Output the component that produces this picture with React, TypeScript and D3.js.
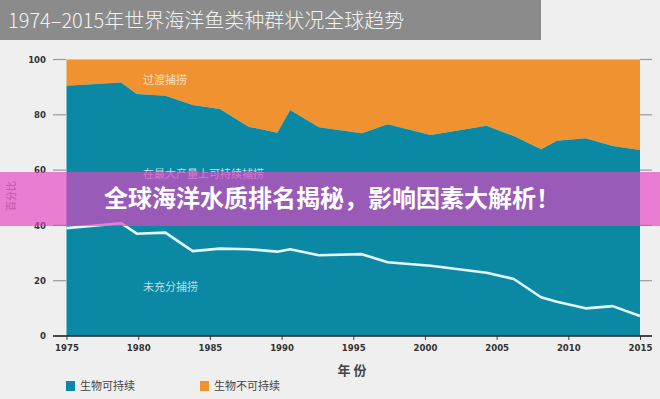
import React, { useEffect, useRef } from "react";
import * as d3 from "d3";

// years (points sit a little between whole years)
const years = [1975, 1978.8, 1979.9, 1981.9, 1983.8, 1985.7, 1987.7, 1989.7, 1990.6, 1992.6, 1995.6, 1997.4, 2000.4, 2004.3, 2006.2, 2008.1, 2009.2, 2011.2, 2013.1, 2015];
// share of stocks fished within sustainable levels (%)
const sustainable = [90.5, 91.7, 87.5, 86.9, 83.5, 82.1, 75.7, 73.5, 81.7, 75.5, 73.3, 76.6, 72.7, 76.0, 72.3, 67.5, 70.6, 71.5, 68.7, 67.3];
// share of underfished stocks (%)
const underfished = [39.0, 40.8, 37.0, 37.4, 30.7, 31.6, 31.4, 30.5, 31.4, 29.2, 29.6, 26.7, 25.4, 22.9, 20.6, 14.0, 12.4, 10.0, 10.8, 7.2];

const xTicks = [1975, 1980, 1985, 1990, 1995, 2000, 2005, 2010, 2015];
const yTicks = [0, 20, 40, 60, 80, 100];
const legendLabels = ["生物可持续", "生物不可持续"];

const TEAL = "#0b89a4";
const ORANGE = "#f0922f";
const W = 660;
const H = 399;
const numFont = "'Liberation Sans Narrow', 'DejaVu Sans Condensed', sans-serif";
const cjkFont = "'Noto Sans CJK SC', 'Noto Sans', sans-serif";

const App = () => {
  const svgRef = useRef<SVGSVGElement>(null);

  useEffect(() => {
    const svg = d3.select(svgRef.current);
    svg.selectAll("*").remove();

    const x = d3.scaleLinear().domain([1975, 2015]).range([66.5, 640]);
    const y = d3.scaleLinear().domain([0, 100]).range([336, 59.5]);

    const rows = years.map((yr, i) => ({ yr, s: sustainable[i], u: underfished[i] }));

    svg.append("rect").attr("width", W).attr("height", H).attr("fill", "#efefef");

    // title bar
    svg.append("rect").attr("width", 541).attr("height", 40).attr("fill", "#8b8b8b");
    svg
      .append("text")
      .attr("x", 8)
      .attr("y", 28)
      .attr("fill", "#f2f2f2")
      .style("font-family", cjkFont)
      .style("font-weight", 300)
      .style("font-size", "20px")
      .text("1974–2015年世界海洋鱼类种群状况全球趋势");

    // stacked areas
    svg
      .append("path")
      .datum(rows)
      .attr("fill", ORANGE)
      .attr(
        "d",
        d3
          .area<any>()
          .x((d) => x(d.yr))
          .y0((d) => y(d.s))
          .y1(() => y(100))
      );
    svg
      .append("path")
      .datum(rows)
      .attr("fill", TEAL)
      .attr(
        "d",
        d3
          .area<any>()
          .x((d) => x(d.yr))
          .y0(y(0))
          .y1((d) => y(d.s))
      );

    svg
      .append("path")
      .datum(rows)
      .attr("fill", "none")
      .attr("stroke", "#e4f7fb")
      .attr("stroke-width", 2.6)
      .attr("stroke-linejoin", "round")
      .attr(
        "d",
        d3
          .line<any>()
          .x((d) => x(d.yr))
          .y((d) => y(d.u))
      );

    // labels in the areas
    const areaLabels = [
      { t: "过渡捕捞", v: 92.5 },
      { t: "在最大产量上可持续捕捞", v: 58.5 },
      { t: "未充分捕捞", v: 17.5 },
    ];
    svg
      .selectAll(".alab")
      .data(areaLabels)
      .enter()
      .append("text")
      .attr("x", 143)
      .attr("y", (d) => y(d.v))
      .attr("dy", "0.35em")
      .attr("fill", "#ffffff")
      .attr("fill-opacity", 0.72)
      .style("font-family", cjkFont)
      .style("font-size", "11px")
      .text((d) => d.t);

    // y axis ticks, both sides
    const yg = svg.append("g");
    yTicks.forEach((t) => {
      yg.append("line").attr("x1", 53).attr("x2", 66).attr("y1", y(t)).attr("y2", y(t)).attr("stroke", "#9a9a9a").attr("stroke-width", 1.2);
      yg.append("line").attr("x1", 640).attr("x2", 652).attr("y1", y(t)).attr("y2", y(t)).attr("stroke", "#9a9a9a").attr("stroke-width", 1.2);
      yg.append("text")
        .attr("x", 46)
        .attr("y", y(t))
        .attr("dy", "0.35em")
        .attr("text-anchor", "end")
        .attr("fill", "#333")
        .style("font-family", numFont)
        .style("font-weight", "bold")
        .style("font-size", "9.5px")
        .text(t);
    });

    // x axis
    const xAxis = svg
      .append("g")
      .attr("transform", `translate(0,${y(0)})`)
      .call(d3.axisBottom(x).tickValues(xTicks).tickFormat(d3.format("d")).tickSize(4).tickPadding(4));
    xAxis.select(".domain").remove();
    xAxis.selectAll("line").attr("stroke", "#444");
    xAxis
      .selectAll("text")
      .attr("fill", "#333")
      .style("font-family", numFont)
      .style("font-weight", "bold")
      .style("font-size", "9.5px");
    svg.append("line").attr("x1", 53).attr("x2", 652).attr("y1", y(0)).attr("y2", y(0)).attr("stroke", "#222").attr("stroke-width", 1.6);

    svg
      .append("text")
      .attr("x", 352)
      .attr("y", 375)
      .attr("text-anchor", "middle")
      .attr("fill", "#444")
      .style("font-family", cjkFont)
      .style("font-weight", "bold")
      .style("font-size", "13px")
      .text("年 份");

    svg
      .append("text")
      .attr("transform", "translate(15,196) rotate(-90)")
      .attr("text-anchor", "middle")
      .attr("fill", "#777")
      .style("font-family", cjkFont)
      .style("font-size", "10px")
      .text("百分比");

    // legend
    const lg = svg.selectAll(".lg").data(legendLabels).enter().append("g").attr("transform", (d, i) => `translate(${i === 0 ? 66 : 200},381)`);
    lg.append("rect").attr("width", 9).attr("height", 10).attr("fill", (d, i) => (i === 0 ? TEAL : ORANGE));
    lg.append("text")
      .attr("x", 14)
      .attr("y", 5)
      .attr("dy", "0.35em")
      .attr("fill", "#444")
      .style("font-family", cjkFont)
      .style("font-size", "11px")
      .text((d) => d);

    // overlay banner
    svg.append("rect").attr("x", 0).attr("y", 172).attr("width", W).attr("height", 54).attr("fill", "rgb(228,66,194)").attr("fill-opacity", 0.66);
    svg
      .append("text")
      .attr("x", 332)
      .attr("y", 199)
      .attr("dy", "0.35em")
      .attr("text-anchor", "middle")
      .attr("fill", "#ffffff")
      .style("font-family", cjkFont)
      .style("font-weight", "bold")
      .style("font-size", "24px")
      .text("全球海洋水质排名揭秘，影响因素大解析！");
  }, []);

  return <svg ref={svgRef} width={W} height={H} style={{ position: "absolute", left: 0, top: 0, display: "block" }}></svg>;
};

export default App;
